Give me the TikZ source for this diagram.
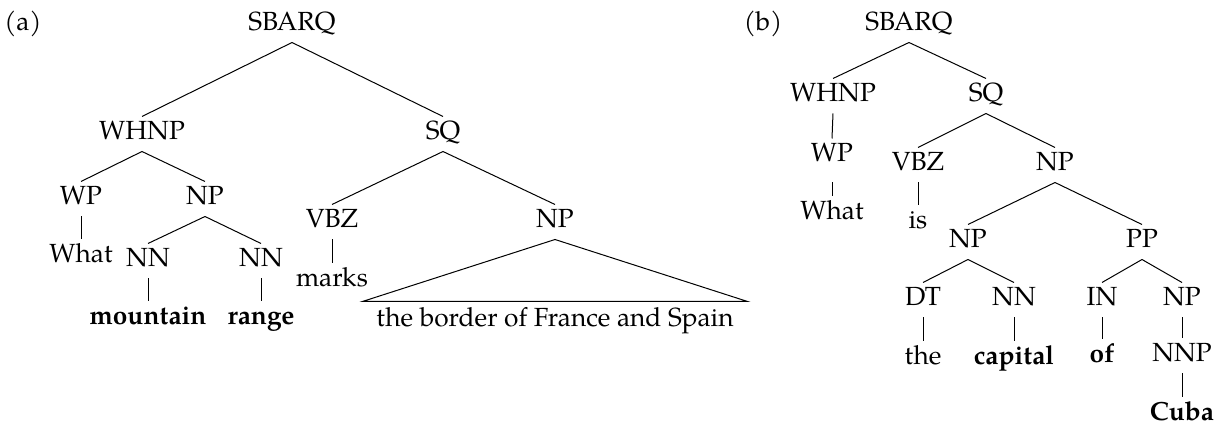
\documentclass[tikz,border=0pt]{standalone}
\usepackage{fontspec}
\setmainfont{TeX Gyre Pagella}
\begin{document}
\begin{tikzpicture}[x=0.4pt,y=-0.4pt,
  lbl/.style={anchor=base,inner xsep=1pt,inner ysep=0pt,
    text height=9.2pt,text depth=4.4pt,font=\fontsize{10.5}{13}\selectfont},
  bword/.style={lbl,font=\fontsize{10.5}{13}\selectfont\bfseries},
  phrase/.style={lbl,text height=10pt,inner xsep=5.4pt},
  edge/.style={draw=black,line width=0.4pt}]
\useasboundingbox (0,0) rectangle (1221,425);

% ---------- tree (a) ----------
\node[lbl] (la) at (23,31) {(a)};
\node[lbl] (a0) at (292,31) {SBARQ};
\node[lbl] (a1) at (142,140) {WHNP};
\node[lbl] (a2) at (443,140) {SQ};
\node[lbl] (a11) at (81,205) {WP};
\node[lbl] (a12) at (205,205) {NP};
\node[lbl] (a111) at (81,263) {What};
\node[lbl] (a121) at (148,267) {NN};
\node[lbl] (a122) at (261,267) {NN};
\node[bword] (a1211) at (148,325) {mountain};
\node[bword] (a1221) at (261,325) {range};
\node[lbl] (a21) at (332,228) {VBZ};
\node[lbl] (a22) at (555,228) {NP};
\node[lbl] (a211) at (332,287) {marks};
\node[phrase] (a221) at (555,327) {the border of France and Spain};

\draw[edge] (a0.south) -- (a1.north);
\draw[edge] (a0.south) -- (a2.north);
\draw[edge] (a1.south) -- (a11.north);
\draw[edge] (a1.south) -- (a12.north);
\draw[edge] (a11.south) -- (a111.north);
\draw[edge] (a12.south) -- (a121.north);
\draw[edge] (a12.south) -- (a122.north);
\draw[edge] (a121.south) -- (a1211.north);
\draw[edge] (a122.south) -- (a1221.north);
\draw[edge] (a2.south) -- (a21.north);
\draw[edge] (a2.south) -- (a22.north);
\draw[edge] (a21.south) -- (a211.north);
\draw[edge,line join=miter] (a22.south) -- (a221.north west) -- (a221.north east) -- cycle;

% ---------- tree (b) ----------
\node[lbl] (lb) at (763,31) {(b)};
\node[lbl] (b0) at (909,31) {SBARQ};
\node[lbl] (b1) at (833,102) {WHNP};
\node[lbl] (b2) at (986,102) {SQ};
\node[lbl] (b11) at (832,162) {WP};
\node[lbl] (b111) at (832,220) {What};
\node[lbl] (b21) at (918,171) {VBZ};
\node[lbl] (b22) at (1055,171) {NP};
\node[lbl] (b211) at (918,229) {is};
\node[lbl] (b221) at (968,248) {NP};
\node[lbl] (b222) at (1142,248) {PP};
\node[lbl] (b2211) at (923,306) {DT};
\node[lbl] (b2212) at (1014,306) {NN};
\node[lbl] (b22111) at (923,365) {the};
\node[bword] (b22121) at (1014,365) {capital};
\node[lbl] (b2221) at (1102,306) {IN};
\node[lbl] (b2222) at (1182,306) {NP};
\node[bword] (b22211) at (1102,363) {of};
\node[lbl] (b22221) at (1182,362) {NNP};
\node[bword] (b222211) at (1182,421) {Cuba};

\draw[edge] (b0.south) -- (b1.north);
\draw[edge] (b0.south) -- (b2.north);
\draw[edge] (b1.south) -- (b11.north);
\draw[edge,shorten <=3.5pt] (b11.south) -- (b111.north);
\draw[edge] (b2.south) -- (b21.north);
\draw[edge] (b2.south) -- (b22.north);
\draw[edge] (b21.south) -- (b211.north);
\draw[edge] (b22.south) -- (b221.north);
\draw[edge] (b22.south) -- (b222.north);
\draw[edge] (b221.south) -- (b2211.north);
\draw[edge] (b221.south) -- (b2212.north);
\draw[edge] (b2211.south) -- (b22111.north);
\draw[edge] (b2212.south) -- (b22121.north);
\draw[edge] (b222.south) -- (b2221.north);
\draw[edge] (b222.south) -- (b2222.north);
\draw[edge] (b2221.south) -- (b22211.north);
\draw[edge] (b2222.south) -- (b22221.north);
\draw[edge] (b22221.south) -- (b222211.north);
\end{tikzpicture}
\end{document}
